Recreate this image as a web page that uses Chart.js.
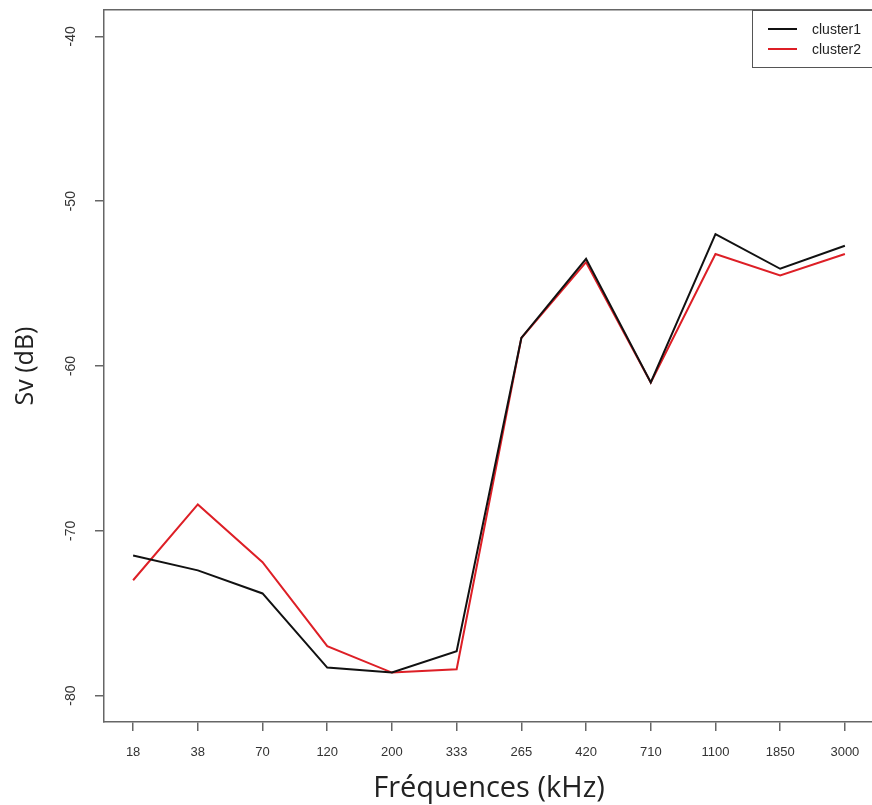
<!DOCTYPE html>
<html>
<head>
<meta charset="utf-8">
<script src="https://cdn.jsdelivr.net/npm/chart.js@4/dist/chart.umd.min.js"></script>
<style>
  html, body { margin: 0; padding: 0; background: #fff; overflow: hidden; }
  #wrap { width: 872px; height: 805px; overflow: hidden; }
</style>
</head>
<body>
<div id="wrap"><canvas id="svChart" width="880" height="805"></canvas></div>
<script>
const frequencies = ['18', '38', '70', '120', '200', '333', '265', '420', '710', '1100', '1850', '3000'];
const cluster1 = [-71.5, -72.4, -73.8, -78.3, -78.6, -77.3, -58.3, -53.5, -61.0, -52.0, -54.1, -52.7];
const cluster2 = [-73.0, -68.4, -71.9, -77.0, -78.6, -78.4, -58.3, -53.7, -61.0, -53.2, -54.5, -53.2];
const yTicks = [-80, -70, -60, -50, -40];

const axisGray = '#666';
const tickFont = { family: 'Liberation Sans, Arial', size: 13 };

// legend drawn as a boxed key in the top right corner, like R's legend()
const boxLegend = {
  id: 'boxLegend',
  afterDraw(chart) {
    const { ctx, chartArea } = chart;
    const x0 = 752, y0 = chartArea.top, w = 130, h = 57;
    ctx.save();
    ctx.strokeStyle = '#555';
    ctx.lineWidth = 1;
    ctx.strokeRect(x0 + 0.5, y0 + 0.5, w, h);
    ctx.font = '14px Liberation Sans, Arial';
    ctx.textBaseline = 'middle';
    chart.data.datasets.forEach((ds, i) => {
      const y = y0 + 19 + i * 20;
      ctx.strokeStyle = ds.borderColor;
      ctx.lineWidth = 2;
      ctx.beginPath();
      ctx.moveTo(768, y);
      ctx.lineTo(797, y);
      ctx.stroke();
      ctx.fillStyle = '#222';
      ctx.fillText(ds.label, 812, y + 1);
    });
    ctx.restore();
  }
};

const noPad = (s) => { s.paddingTop = 0; s.paddingBottom = 0; s.paddingLeft = 0; s.paddingRight = 0; };

const ctx = document.getElementById('svChart').getContext('2d');
const svChart = new Chart(ctx, {
  type: 'line',
  data: {
    datasets: [{
      label: 'cluster1',
      data: cluster1.map((v, i) => ({ x: i + 1, y: v })),
      borderColor: '#111111',
      borderWidth: 2,
      pointRadius: 0,
      tension: 0
    }, {
      label: 'cluster2',
      data: cluster2.map((v, i) => ({ x: i + 1, y: v })),
      borderColor: '#dd1f26',
      borderWidth: 2,
      pointRadius: 0,
      tension: 0
    }]
  },
  options: {
    responsive: false,
    animation: false,
    devicePixelRatio: 1,
    layout: { padding: { left: 0, right: 6, top: 0, bottom: 0 } },
    plugins: {
      legend: { display: false },
      tooltip: { enabled: false }
    },
    scales: {
      x: {
        type: 'linear',
        position: 'bottom',
        min: 0.55,
        max: 12.45,
        afterBuildTicks: (s) => { s.ticks = frequencies.map((_, i) => ({ value: i + 1 })); },
        afterFit: (s) => { s.height = 83; noPad(s); },
        ticks: {
          autoSkip: false,
          maxRotation: 0,
          padding: 14,
          color: '#333',
          font: tickFont,
          callback: (v) => frequencies[v - 1]
        },
        grid: { drawOnChartArea: false, drawTicks: true, tickLength: 9, color: axisGray, lineWidth: 1.5 },
        border: { display: true, color: axisGray, width: 1.5 },
        title: {
          display: true,
          text: 'Fréquences (kHz)',
          color: '#222',
          font: { family: 'Open Sans', size: 29, lineHeight: 1.1 },
          padding: { top: 0, bottom: 0 }
        }
      },
      xTop: {
        type: 'linear',
        position: 'top',
        min: 0.55,
        max: 12.45,
        afterFit: (s) => { s.height = 10; noPad(s); },
        ticks: { display: false },
        grid: { display: false },
        border: { display: true, color: axisGray, width: 1.5 }
      },
      y: {
        min: -81.6,
        max: -38.4,
        afterBuildTicks: (s) => { s.ticks = yTicks.map(v => ({ value: v })); },
        afterFit: (s) => { s.width = 104; noPad(s); },
        ticks: {
          minRotation: 90,
          maxRotation: 90,
          crossAlign: 'center',
          padding: 14,
          color: '#333',
          font: { family: 'Liberation Sans, Arial', size: 14 }
        },
        grid: { drawOnChartArea: false, drawTicks: true, tickLength: 9, color: axisGray, lineWidth: 1.5 },
        border: { display: true, color: axisGray, width: 1.5 },
        title: {
          display: true,
          text: 'Sv (dB)',
          color: '#222',
          font: { family: 'Open Sans', size: 25 },
          padding: { top: 11, bottom: 0 }
        }
      }
    }
  },
  plugins: [boxLegend]
});
</script>
</body>
</html>
